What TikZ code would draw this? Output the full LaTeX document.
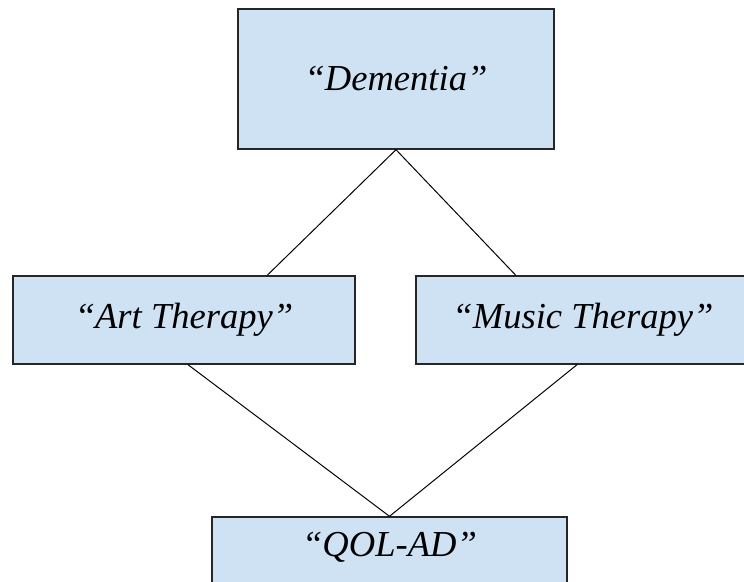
\documentclass[tikz,border=0pt]{standalone}
\usepackage{fontspec}
\setmainfont{Liberation Serif}
\usepackage{xcolor}
\usepackage{tikz}
\usetikzlibrary{positioning}
\definecolor{boxblue}{HTML}{CFE2F3}
\tikzset{rect/.style={rectangle,draw=black!85,fill=boxblue,line width=1pt,inner sep=0pt,font=\itshape\fontsize{26}{30}\selectfont}}

\begin{document}
\begin{tikzpicture}[x=0.025cm,y=-0.025cm]
    \useasboundingbox (0,0) rectangle (744,582);
    \clip (0,0) rectangle (744,582);
    \node[rect,minimum width=316*0.025cm,minimum height=140*0.025cm] (dem) at (396,79) {``Dementia''};
    \node[rect,minimum width=342*0.025cm,minimum height=88*0.025cm] (art) at (184,320) {``Art Therapy''};
    \node[rect,minimum width=334*0.025cm,minimum height=88*0.025cm] (mus) at (583,320) {``Music Therapy''};
    \node[rect,minimum width=355*0.025cm,minimum height=88*0.025cm] (qol) at (389.5,561) {};
    \node[font=\itshape\fontsize{26}{30}\selectfont] (qolt) at (389.5,547) {``QOL-AD''};

    \draw [line width=0.7pt] (dem.south) to [] ([xshift=2.08cm]art.north);
    \draw [line width=0.7pt] (dem.south) to [] ([xshift=-1.68cm]mus.north);
    \draw [line width=0.7pt] ([xshift=0.1cm]art.south) to [] (qol.north);
    \draw [line width=0.7pt] ([xshift=-0.15cm]mus.south) to [] (qol.north);
\end{tikzpicture}
\end{document}
